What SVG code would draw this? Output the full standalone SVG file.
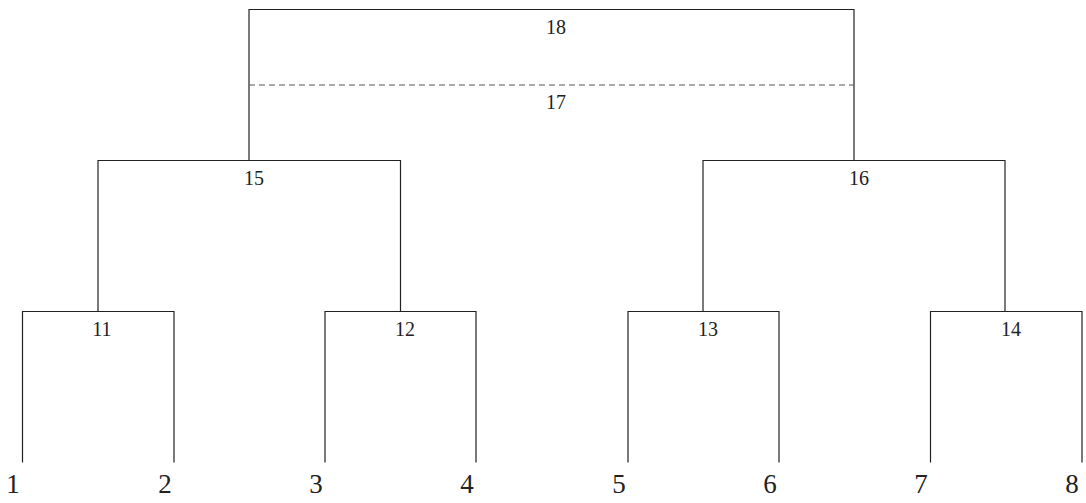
<svg xmlns="http://www.w3.org/2000/svg" width="1086" height="503" viewBox="0 0 1086 503">
<style>
.l{fill:none;stroke:#222;stroke-width:1.2}
.d{fill:none;stroke:#555;stroke-width:1.2;stroke-dasharray:6 4}
.t{font-family:"Liberation Serif",serif;font-size:20px;fill:#222;text-anchor:middle}
.leaf{font-family:"Liberation Serif",serif;font-size:27px;fill:#222;text-anchor:middle}
</style>
<rect width="1086" height="503" fill="#fff"/>
<g id="connectors">
<path class="l" d="M22.5,462.5V311.5H174V462.5"/>
<path class="l" d="M325,462.5V311.5H476V462.5"/>
<path class="l" d="M628,462.5V311.5H779V462.5"/>
<path class="l" d="M930.5,462.5V311.5H1082V462.5"/>
<path class="l" d="M98,311.5V160.5H400.5V311.5"/>
<path class="l" d="M703,311.5V160.5H1005V311.5"/>
<path class="l" d="M249,160.5V9.5H854V160.5"/>
<path class="d" d="M249,85H854"/>
</g>
<g id="n1"><text class="leaf" x="13" y="493">1</text></g>
<g id="n2"><text class="leaf" x="165" y="493">2</text></g>
<g id="n3"><text class="leaf" x="316" y="493">3</text></g>
<g id="n4"><text class="leaf" x="467" y="493">4</text></g>
<g id="n5"><text class="leaf" x="619" y="493">5</text></g>
<g id="n6"><text class="leaf" x="770" y="493">6</text></g>
<g id="n7"><text class="leaf" x="921" y="493">7</text></g>
<g id="n8"><text class="leaf" x="1072" y="493">8</text></g>
<g id="n11"><text class="t" x="102" y="336">11</text></g>
<g id="n12"><text class="t" x="405" y="336">12</text></g>
<g id="n13"><text class="t" x="708" y="336">13</text></g>
<g id="n14"><text class="t" x="1011" y="336">14</text></g>
<g id="n15"><text class="t" x="254" y="185">15</text></g>
<g id="n16"><text class="t" x="859" y="185">16</text></g>
<g id="n17"><text class="t" x="556" y="109">17</text></g>
<g id="n18"><text class="t" x="556" y="34">18</text></g>
</svg>
